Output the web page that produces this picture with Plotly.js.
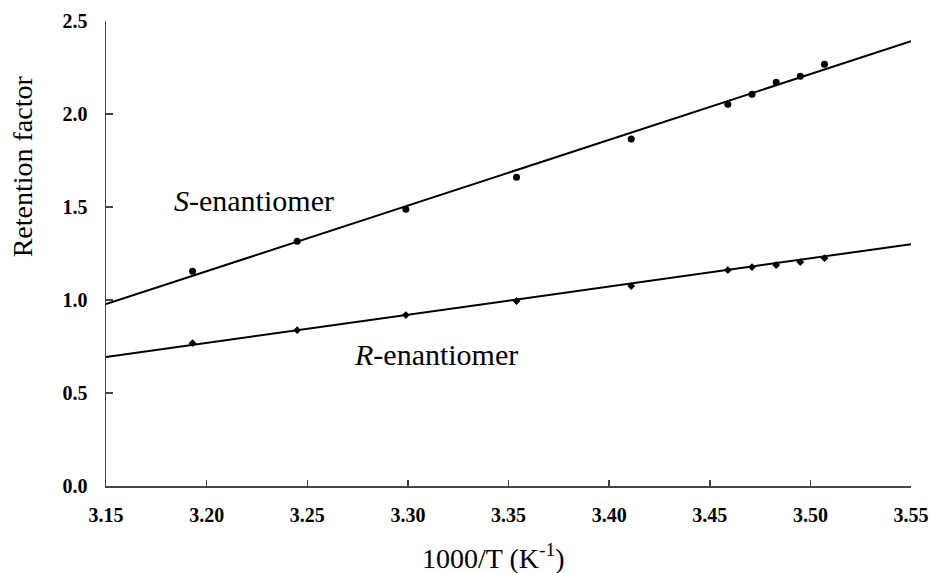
<!DOCTYPE html>
<html>
<head>
<meta charset="utf-8">
<script src="https://cdn.plot.ly/plotly-3.0.1.min.js"></script>
<style>html,body{margin:0;padding:0;background:#fff;}#chart{width:930px;height:573px;}</style>
</head>
<body>
<div id="chart"></div>
<script>
// Measured points
const invT = [3.193, 3.245, 3.299, 3.354, 3.411, 3.459, 3.471, 3.483, 3.495, 3.507];
const kS = [1.155, 1.316, 1.488, 1.660, 1.865, 2.053, 2.106, 2.171, 2.203, 2.268];
const kR = [0.768, 0.838, 0.919, 0.994, 1.075, 1.161, 1.177, 1.188, 1.204, 1.225];
// Fitted line end points
const fitX = [3.15, 3.55];
const fitS = [0.978, 2.391];
const fitR = [0.693, 1.300];
const xTicks = [3.15, 3.20, 3.25, 3.30, 3.35, 3.40, 3.45, 3.50, 3.55];
const yTicks = [0.0, 0.5, 1.0, 1.5, 2.0, 2.5];

const serif = "Liberation Serif";
const traces = [
  {x: fitX, y: fitS, mode: 'lines', line: {color: '#000', width: 2}, hoverinfo: 'skip'},
  {x: fitX, y: fitR, mode: 'lines', line: {color: '#000', width: 2}, hoverinfo: 'skip'},
  {x: invT, y: kS, mode: 'markers', marker: {symbol: 'circle', size: 7, color: '#000'}},
  {x: invT, y: kR, mode: 'markers', marker: {symbol: 'diamond', size: 6, color: '#000'}}
];
const layout = {
  width: 930, height: 573,
  margin: {l: 106, r: 19, t: 21, b: 87},
  paper_bgcolor: '#fff', plot_bgcolor: '#fff',
  showlegend: false,
  font: {family: serif, color: '#000'},
  xaxis: {
    range: [3.15, 3.55], tickvals: xTicks, ticktext: xTicks.map(v => '<b>' + v.toFixed(2) + '</b>'),
    ticks: 'inside', ticklen: 6, tickcolor: '#444', tickwidth: 1.5,
    showline: true, linecolor: '#444', linewidth: 1.5, showgrid: false, zeroline: false,
    ticklabelstandoff: 10,
    tickfont: {family: serif, size: 20, color: '#000'}
  },
  yaxis: {
    range: [0, 2.5], tickvals: yTicks, ticktext: yTicks.map(v => '<b>' + v.toFixed(1) + '</b>'),
    ticks: 'inside', ticklen: 7, tickcolor: '#444', tickwidth: 1.5,
    showline: true, linecolor: '#444', linewidth: 1.5, showgrid: false, zeroline: false,
    ticklabelstandoff: 13,
    tickfont: {family: serif, size: 20, color: '#000'}
  },
  annotations: [
    {xref: 'paper', yref: 'paper', x: -0.104, y: 0.688, xanchor: 'center', yanchor: 'middle',
     text: 'Retention factor', textangle: -90,
     showarrow: false, font: {family: serif, size: 28, color: '#000'}},
    {xref: 'paper', yref: 'paper', x: 0.481, y: -0.152, xanchor: 'center', yanchor: 'middle',
     text: '1000/T (K<sup>-1</sup>)',
     showarrow: false, font: {family: serif, size: 28, color: '#000'}},
    {xref: 'x', yref: 'y', x: 3.2235, y: 1.535, xanchor: 'center', yanchor: 'middle',
     text: '<i>S</i>-enantiomer', showarrow: false,
     font: {family: serif, size: 30, color: '#000'}},
    {xref: 'x', yref: 'y', x: 3.314, y: 0.705, xanchor: 'center', yanchor: 'middle',
     text: '<i>R</i>-enantiomer', showarrow: false,
     font: {family: serif, size: 30, color: '#000'}}
  ]
};
Plotly.newPlot('chart', traces, layout, {displayModeBar: false, staticPlot: true});
</script>
</body>
</html>
